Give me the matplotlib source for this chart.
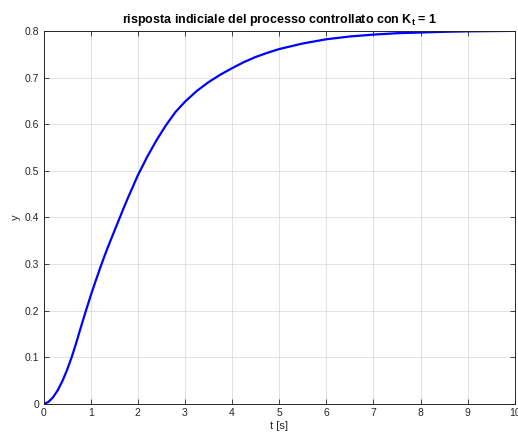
import numpy as np
import matplotlib.pyplot as plt

# punti (risposta al gradino)
t = [0, 0.1, 0.2, 0.3, 0.4, 0.5, 0.6, 0.7, 0.8, 0.9, 1.0, 1.1, 1.2, 1.3, 1.4,
     1.5, 1.6, 1.7, 1.8, 1.9, 2.0, 2.2, 2.4, 2.6, 2.8, 3.0, 3.25, 3.5, 3.75,
     4.0, 4.25, 4.5, 4.75, 5.0, 5.5, 6.0, 6.5, 7.0, 7.5, 8.0, 8.5, 9.0, 9.5, 10.0]
y = [0, 0.004, 0.014, 0.029, 0.049, 0.073, 0.101, 0.133, 0.167, 0.2, 0.232,
     0.262, 0.291, 0.319, 0.345, 0.37, 0.395, 0.42, 0.444, 0.467, 0.49, 0.53,
     0.566, 0.598, 0.626, 0.648, 0.671, 0.69, 0.706, 0.72, 0.733, 0.744,
     0.753, 0.761, 0.773, 0.782, 0.788, 0.792, 0.795, 0.7965, 0.798, 0.799,
     0.7995, 0.8]
xticks = list(range(0, 11))
yticks = [0, 0.1, 0.2, 0.3, 0.4, 0.5, 0.6, 0.7, 0.8]
ylabels = ['0', '0.1', '0.2', '0.3', '0.4', '0.5', '0.6', '0.7', '0.8']

plt.rcParams['font.family'] = ['Liberation Sans', 'DejaVu Sans']
plt.rcParams['mathtext.fontset'] = 'custom'
plt.rcParams['mathtext.rm'] = 'Liberation Sans'
plt.rcParams['mathtext.bf'] = 'Liberation Sans:bold'

grigio = (0.15, 0.15, 0.15)

fig = plt.figure(figsize=(5.18, 4.41), dpi=100)
ax = fig.add_axes([0.084, 0.084, 0.910, 0.846])

ax.plot(t, y, color=(0, 0, 1), linewidth=1.6)

ax.set_xlim(0, 10)
ax.set_ylim(0, 0.8)
ax.set_xticks(xticks)
ax.set_yticks(yticks)
ax.set_yticklabels(ylabels)
ax.grid(True, color=grigio, alpha=0.15, linewidth=0.6)
ax.tick_params(direction='in', top=True, right=True, labelsize=7.5,
               colors=grigio, length=3.5, width=0.6, pad=3)
for s in ax.spines.values():
    s.set_color(grigio)
    s.set_linewidth(0.7)

ax.set_xlabel('t [s]', fontsize=8, color=grigio, labelpad=2)
ax.set_ylabel('y', fontsize=8, color=grigio, labelpad=3)
ax.set_title(r'risposta indiciale del processo controllato con K$_{\mathbf{t}}$ = 1',
             fontsize=9, fontweight='bold', pad=6)

plt.savefig('out.png', dpi=100)
